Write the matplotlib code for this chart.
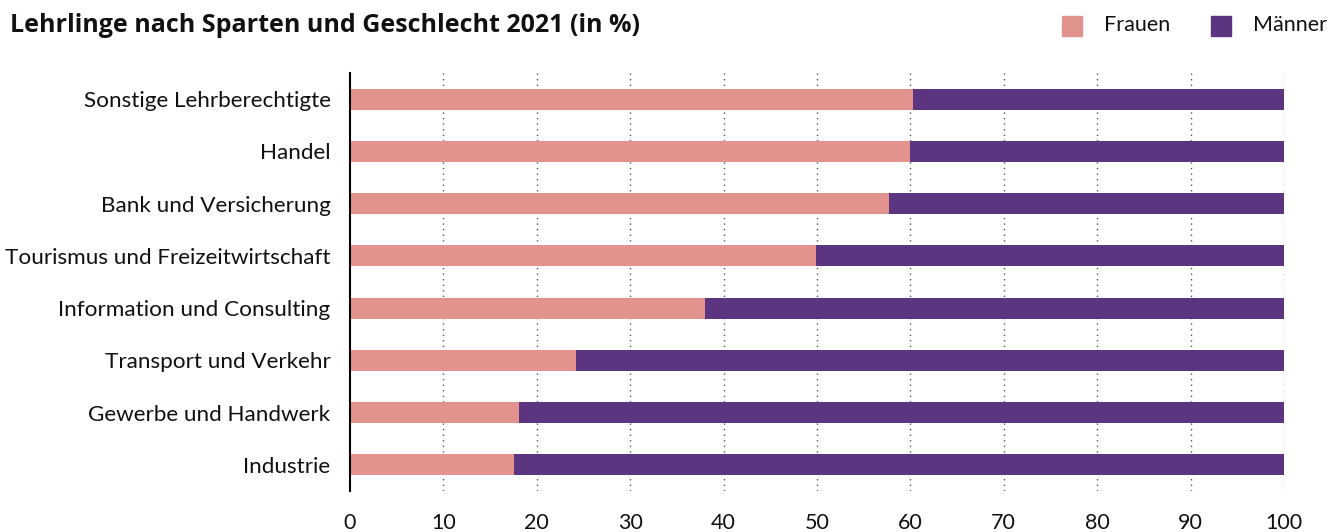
import matplotlib
matplotlib.use("Agg")
import matplotlib.pyplot as plt
from matplotlib.patches import Rectangle
import numpy as np

plt.rcParams['font.family'] = ['Lato', 'DejaVu Sans']

title = "Lehrlinge nach Sparten und Geschlecht 2021 (in %)"
categories = [
    "Sonstige Lehrberechtigte",
    "Handel",
    "Bank und Versicherung",
    "Tourismus und Freizeitwirtschaft",
    "Information und Consulting",
    "Transport und Verkehr",
    "Gewerbe und Handwerk",
    "Industrie",
]
frauen = [60.3, 60.0, 57.7, 49.9, 38.0, 24.2, 18.1, 17.6]
maenner = [100 - f for f in frauen]
series_names = ["Frauen", "Männer"]
colors = ["#E3938E", "#5C3580"]
xticks = [0, 10, 20, 30, 40, 50, 60, 70, 80, 90, 100]

W, H = 1327, 532
fig = plt.figure(figsize=(W / 100, H / 100), dpi=100)
ax = fig.add_axes([350 / W, 1 - 491 / H, (1284 - 350) / W, (491 - 73) / H])

n = len(categories)
y = np.arange(n)[::-1]
ax.barh(y, frauen, height=0.4, color=colors[0], zorder=3)
ax.barh(y, maenner, left=frauen, height=0.4, color=colors[1], zorder=3)

ax.set_xlim(0, 100)
ax.set_ylim(-0.5, n - 0.5)
ax.set_yticks(y)
ax.set_yticklabels(categories, fontsize=16.2, color="#111111")
ax.set_xticks(xticks)
ax.set_xticklabels([str(t) for t in xticks], fontsize=15.5, color="#111111")
ax.tick_params(axis="y", length=0, pad=14)
ax.tick_params(axis="x", length=0, pad=16)
for x in xticks[1:]:
    ax.axvline(x, color="#555555", linewidth=1, linestyle=(0, (1, 3)), zorder=1)
for s in ["top", "right", "bottom"]:
    ax.spines[s].set_visible(False)
ax.spines["left"].set_linewidth(1.5)
ax.spines["left"].set_color("black")
ax.spines["left"].set_zorder(4)

fig.text(10 / W, 1 - 25 / H, title, fontsize=18, fontweight="bold",
         family=["Open Sans", "DejaVu Sans"],
         ha="left", va="center", color="#111111")

# legend
leg_x = [1062, 1211]
for xs, name, c in zip(leg_x, series_names, colors):
    fig.patches.append(Rectangle((xs / W, 1 - 36 / H), 20 / W, 20 / H,
                                 transform=fig.transFigure, color=c))
    fig.text((xs + 42) / W, 1 - 25 / H, name, fontsize=15.5, ha="left",
             va="center", color="#111111")

fig.savefig("out.png", dpi=100)
